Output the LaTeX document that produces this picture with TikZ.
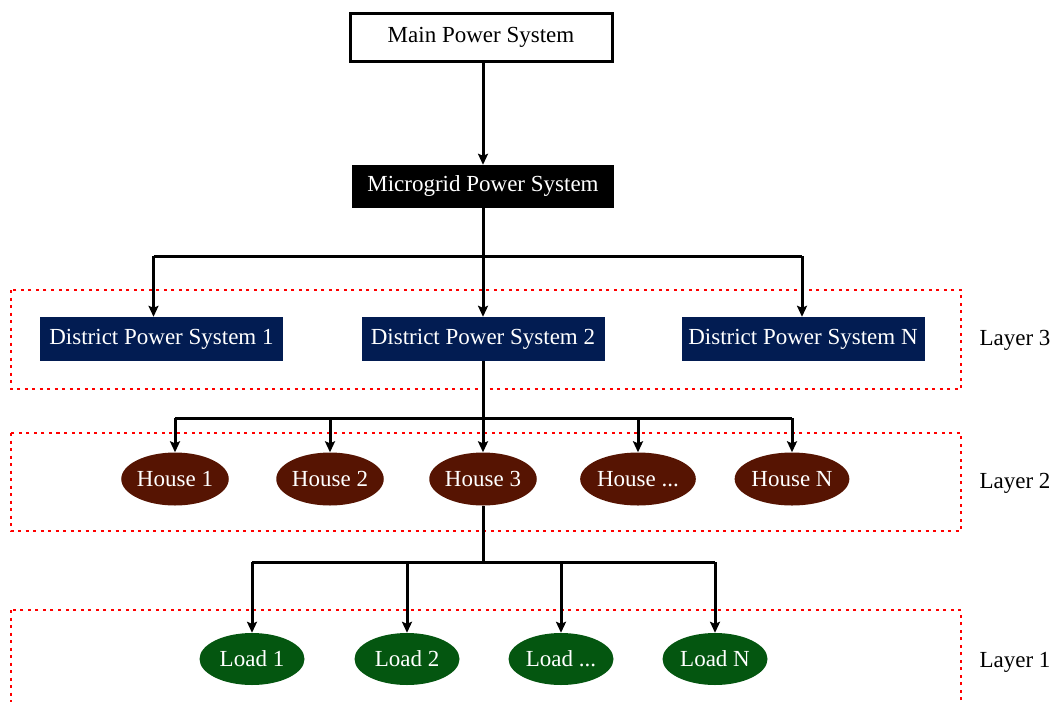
\documentclass[tikz,border=0pt]{standalone}
\usepackage{fontspec}
\setmainfont{Liberation Serif}
\usetikzlibrary{arrows.meta,shapes.geometric}
\definecolor{navybox}{RGB}{2,28,82}
\definecolor{housebrown}{RGB}{86,20,2}
\definecolor{loadgreen}{RGB}{4,86,16}
\begin{document}
\begin{tikzpicture}[x=1pt,y=-1pt,
  font=\fontsize{23}{27}\selectfont,
  conn/.style={line width=3pt},
  arr/.style={line width=3pt,-{Stealth[length=11pt,width=10pt,inset=2pt]}},
  topbox/.style={draw=black,line width=3pt,fill=white,minimum width=262pt,minimum height=47pt,inner sep=0pt},
  microbox/.style={fill=black,text=white,minimum width=262pt,minimum height=43pt,inner sep=0pt},
  districtbox/.style={fill=navybox,text=white,minimum width=243pt,minimum height=44pt,inner sep=0pt},
  house/.style={ellipse,fill=housebrown,text=white,minimum width=104pt,minimum height=53pt,inner sep=0pt},
  load/.style={ellipse,fill=loadgreen,text=white,minimum width=105pt,minimum height=52pt,inner sep=0pt},
  layerframe/.style={draw=red,line width=2.5pt,dash pattern=on 3pt off 4.5pt},
  layerlabel/.style={anchor=center}]
\useasboundingbox (0,0) rectangle (1056,701);
\clip (0,0) rectangle (1056,701);

% layer frames
\draw[layerframe] (11,290) rectangle (961,389);
\draw[layerframe] (11,433) rectangle (961,531);
\draw[layerframe] (11,610) rectangle (961,720);
\node[layerlabel] (lab3) at (1015,340) {Layer 3};
\node[layerlabel] (lab2) at (1015,483) {Layer 2};
\node[layerlabel] (lab1) at (1015,662) {Layer 1};

% top levels
\node[topbox] (main) at (481,37.5) {Main Power System};
\node[microbox] (micro) at (483,186.5) {Microgrid Power System};

% districts
\node[districtbox] (d1) at (161.5,339) {District Power System 1};
\node[districtbox] (d2) at (483,339) {District Power System 2};
\node[districtbox] (dN) at (803,339) {District Power System N};

% houses
\node[house] (h1) at (175,479) {House 1};
\node[house] (h2) at (330,479) {House 2};
\node[house] (h3) at (483,479) {House 3};
\node[house] (h4) at (638,479) {House ...};
\node[house] (h5) at (792,479) {House N};

% loads
\node[load] (l1) at (252,659) {Load 1};
\node[load] (l2) at (407,659) {Load 2};
\node[load] (l3) at (561,659) {Load ...};
\node[load] (l4) at (715,659) {Load N};

% main to microgrid
\draw[arr] (main.south -| micro.north) -- (micro.north);

% microgrid to districts
\coordinate (j1) at (483,256);
\draw[conn] (micro.south) -- (j1);
\draw[conn] ([xshift=-8pt]d1.north |- j1) -- ([xshift=-1pt]dN.north |- j1);
\draw[arr] ([xshift=-8pt]d1.north |- j1) -- ([xshift=-8pt]d1.north);
\draw[arr] (j1) -- (d2.north);
\draw[arr] ([xshift=-1pt]dN.north |- j1) -- ([xshift=-1pt]dN.north);

% district 2 to houses
\coordinate (j2) at (483,418);
\draw[conn] (d2.south) -- (j2);
\draw[conn] (h1.north |- j2) -- (h5.north |- j2);
\foreach \h in {h1,h2,h3,h4,h5}
  \draw[arr] (\h.north |- j2) -- (\h.north);

% house 3 to loads
\coordinate (j3) at (483,562);
\draw[conn] (h3.south) -- (j3);
\draw[conn] (l1.north |- j3) -- (l4.north |- j3);
\foreach \l in {l1,l2,l3,l4}
  \draw[arr] (\l.north |- j3) -- (\l.north);
\end{tikzpicture}
\end{document}
